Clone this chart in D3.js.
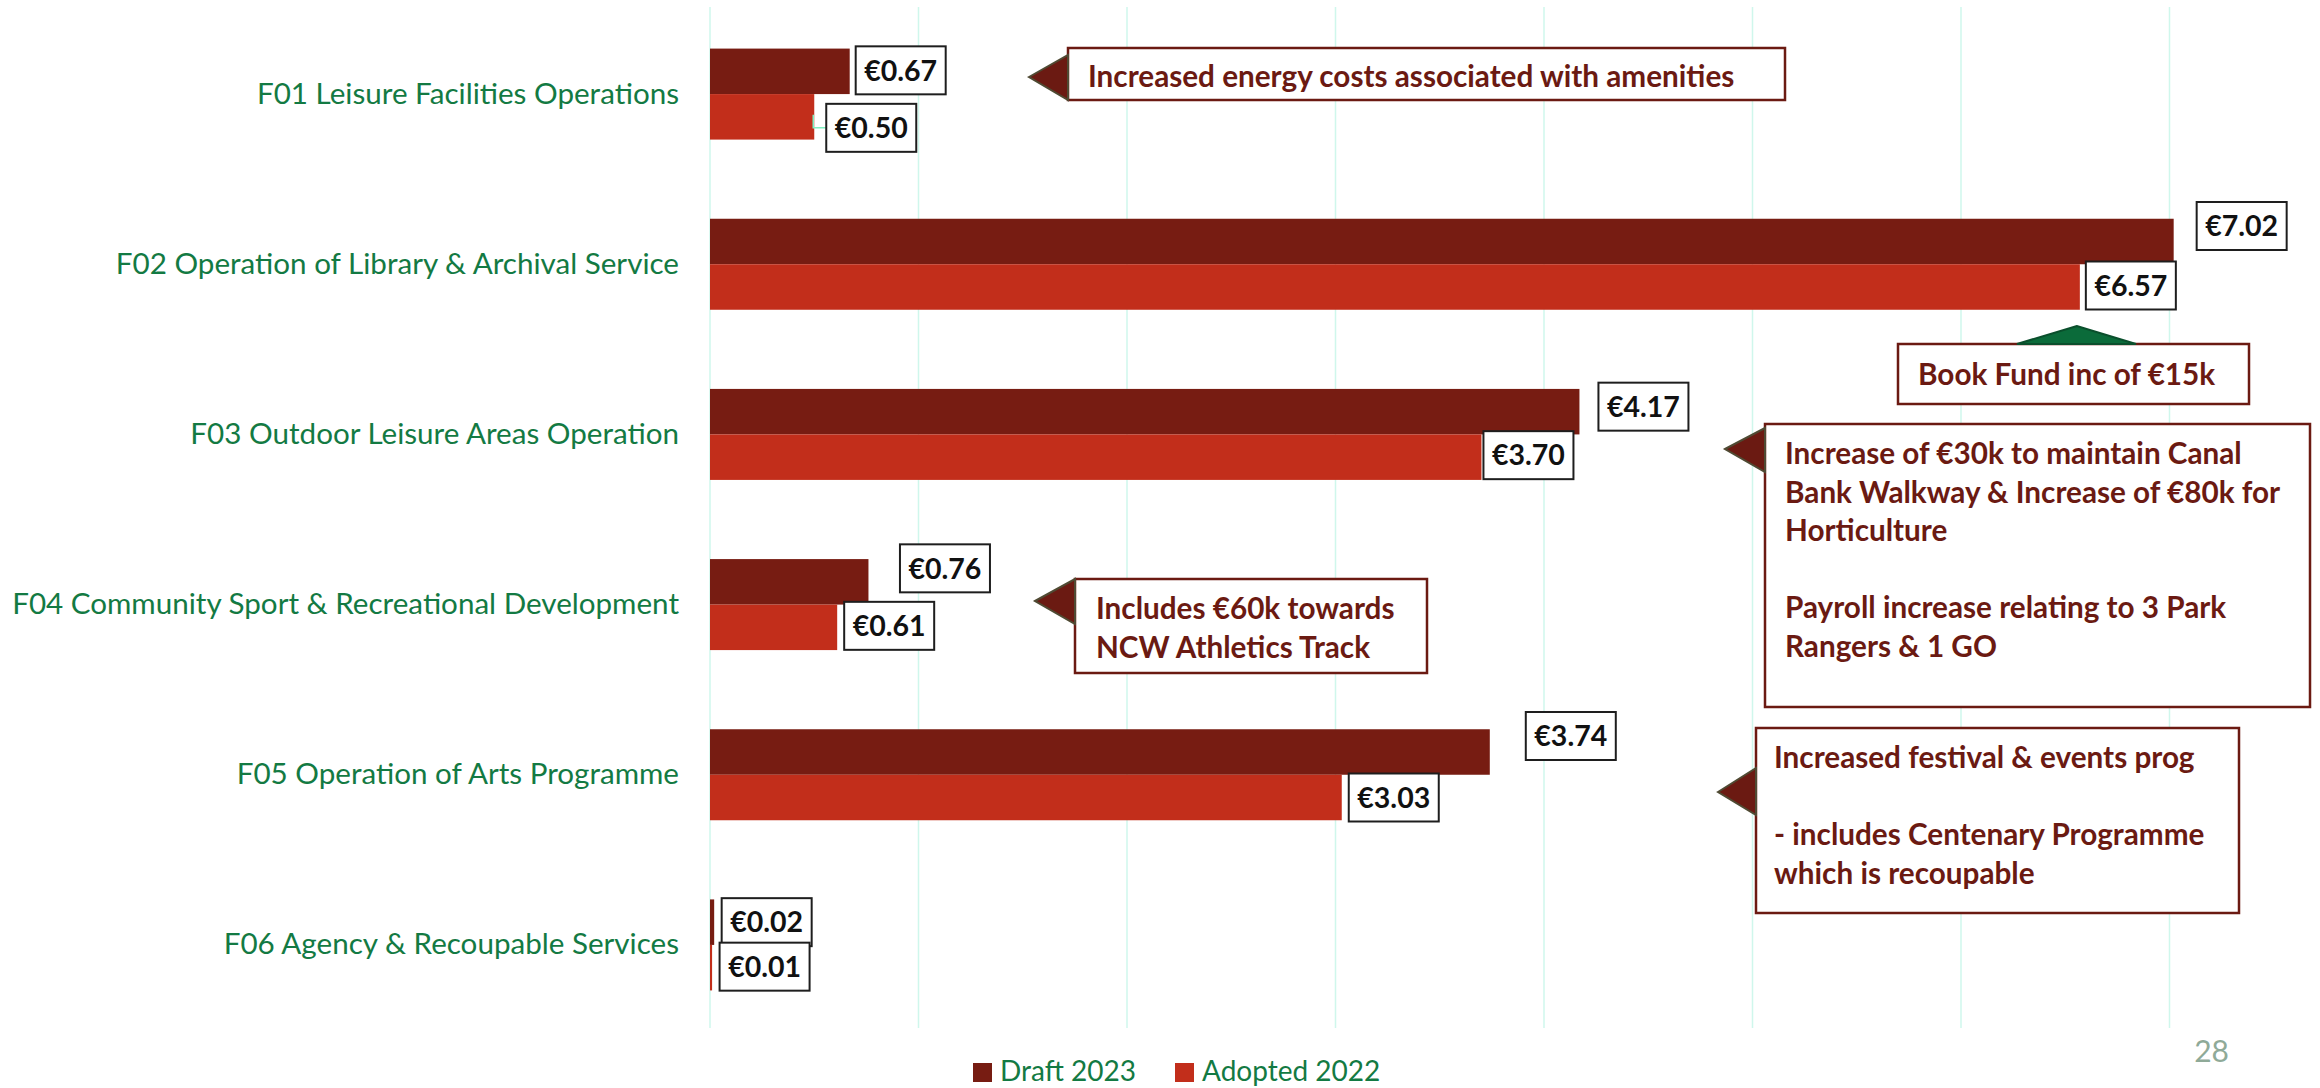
<!DOCTYPE html>
<html>
<head>
<meta charset="utf-8">
<script src="https://cdn.jsdelivr.net/npm/d3@7"></script>
<style>
  html, body { margin: 0; padding: 0; background: #ffffff; }
  svg { display: block; }
  text { font-family: Lato, "Open Sans", sans-serif; }
</style>
</head>
<body>
<svg id="chart" width="2320" height="1088"></svg>
<script>
// ---- data (€ millions) ----
const categories = [
  "F01 Leisure Facilities Operations",
  "F02 Operation of Library & Archival Service",
  "F03 Outdoor Leisure Areas Operation",
  "F04 Community Sport & Recreational Development",
  "F05 Operation of Arts Programme",
  "F06 Agency & Recoupable Services"
];
const seriesNames = ["Draft 2023", "Adopted 2022"];
const draft2023 = [0.67, 7.02, 4.17, 0.76, 3.74, 0.02];
const adopted2022 = [0.50, 6.57, 3.70, 0.61, 3.03, 0.01];
const xTicks = [0, 1, 2, 3, 4, 5, 6, 7];

// data-label nudges [dx from bar end, dy from bar centre]
const draftLabelShift = [[6, -1], [23, -15.5], [19, -5], [31.5, -13.5], [36, -16], [7.5, 0]];
const adoptedLabelShift = [[12, 11], [6, -1.5], [2, -2], [7, -1.5], [7, 0], [7.5, -1]];
const adoptedLeader = [true, false, false, false, false, false];

// commentary callouts
const noteLines = [
  ["Increased energy costs associated with amenities"],
  ["Book Fund inc of €15k"],
  ["Increase of €30k to maintain Canal", "Bank Walkway & Increase of €80k for", "Horticulture", "", "Payroll increase relating to 3 Park", "Rangers & 1 GO"],
  ["Includes €60k towards", "NCW Athletics Track"],
  ["Increased festival & events prog", "", "- includes Centenary Programme", "which is recoupable"]
];
// box [x0, y0, x1, y1], pointer triangle, first baseline, text x
const noteLayout = [
  { box: [1068, 48, 1785, 100], tri: [[1029, 77], [1068, 55], [1068, 100]], triFill: "#6b1a12", text: [1088, 87] },
  { box: [1898, 344, 2249, 404], tri: [[2077, 326], [2017, 344], [2136, 344]], triFill: "#0b6b3a", text: [1918, 385] },
  { box: [1765, 424, 2310, 707], tri: [[1725, 449], [1765, 428], [1765, 472]], triFill: "#6b1a12", text: [1785, 464] },
  { box: [1075, 579, 1427, 673], tri: [[1035, 601], [1075, 579], [1075, 624]], triFill: "#6b1a12", text: [1096, 619] },
  { box: [1756, 728, 2239, 913], tri: [[1718, 792], [1756, 768], [1756, 815]], triFill: "#6b1a12", text: [1774, 768] }
];

const colors = { "Draft 2023": "#771c12", "Adopted 2022": "#c22e1b" };
const labelGreen = "#137a43";
const noteRed = "#6b1a12";

const svg = d3.select("#chart");

// ---- scales ----
const x = d3.scaleLinear().domain([0, 7]).range([710, 2169.5]);
const y = d3.scaleBand().domain(categories).range([9, 1030]);
const ySub = d3.scaleBand().domain(seriesNames).range([0, y.bandwidth()]).paddingOuter(0.87);

// ---- gridlines ----
svg.append("g")
  .selectAll("line")
  .data(xTicks)
  .join("line")
  .attr("x1", d => x(d)).attr("x2", d => x(d))
  .attr("y1", 7).attr("y2", 1028)
  .attr("stroke", "#cff7ec")
  .attr("stroke-width", 1.5);

// ---- category axis ----
const yAxis = d3.axisLeft(y).tickSize(0).tickPadding(0);
const gy = svg.append("g").attr("transform", "translate(679,0)").call(yAxis);
gy.select(".domain").remove();
gy.selectAll("text")
  .attr("fill", labelGreen)
  .style("font-size", "29.6px")
  .style("font-family", "Lato, 'Open Sans', sans-serif");

// ---- bars ----
const rows = categories.map((c, i) => ({
  cat: c,
  values: [
    { series: "Draft 2023", value: draft2023[i], shift: draftLabelShift[i], leader: false },
    { series: "Adopted 2022", value: adopted2022[i], shift: adoptedLabelShift[i], leader: adoptedLeader[i] }
  ]
}));

const groups = svg.append("g")
  .selectAll("g")
  .data(rows)
  .join("g")
  .attr("transform", d => `translate(0,${y(d.cat)})`);

groups.selectAll("rect")
  .data(d => d.values)
  .join("rect")
  .attr("x", x(0))
  .attr("y", d => ySub(d.series))
  .attr("width", d => x(d.value) - x(0))
  .attr("height", ySub.bandwidth())
  .attr("fill", d => colors[d.series]);

// ---- data labels ----
const fmt = v => "€" + d3.format(".2f")(v);
const boxW = 90, boxH = 48;

const lab = groups.selectAll("g.lab")
  .data(d => d.values)
  .join("g")
  .attr("class", "lab");

lab.filter(d => d.leader)
  .append("path")
  .attr("d", d => {
    const cyBar = ySub(d.series) + ySub.bandwidth() / 2;
    const cyBox = cyBar + d.shift[1];
    return `M${x(d.value) - 1},${cyBar - 2}V${cyBox}H${x(d.value) + d.shift[0]}`;
  })
  .attr("fill", "none")
  .attr("stroke", "#7ff0c0")
  .attr("stroke-width", 1.5);

lab.append("rect")
  .attr("x", d => x(d.value) + d.shift[0])
  .attr("y", d => ySub(d.series) + ySub.bandwidth() / 2 + d.shift[1] - boxH / 2)
  .attr("width", boxW)
  .attr("height", boxH)
  .attr("fill", "#ffffff")
  .attr("stroke", "#1e1e1e")
  .attr("stroke-width", 2);

lab.append("text")
  .attr("x", d => x(d.value) + d.shift[0] + boxW / 2)
  .attr("y", d => ySub(d.series) + ySub.bandwidth() / 2 + d.shift[1])
  .attr("dy", "0.36em")
  .attr("text-anchor", "middle")
  .attr("fill", "#111111")
  .style("font-size", "28.5px")
  .style("font-weight", "700")
  .text(d => fmt(d.value));

// ---- callouts ----
const notes = svg.append("g")
  .selectAll("g")
  .data(noteLayout.map((l, i) => ({ ...l, lines: noteLines[i] })))
  .join("g");

notes.append("rect")
  .attr("x", d => d.box[0]).attr("y", d => d.box[1])
  .attr("width", d => d.box[2] - d.box[0])
  .attr("height", d => d.box[3] - d.box[1])
  .attr("fill", "#ffffff")
  .attr("stroke", noteRed)
  .attr("stroke-width", 2.5);

notes.append("path")
  .attr("d", d => d3.line()(d.tri) + "Z")
  .attr("fill", d => d.triFill)
  .attr("stroke", d => d.triFill === "#0b6b3a" ? "#0a4f2c" : "#4f4a33")
  .attr("stroke-width", 2)
  .attr("stroke-linejoin", "miter");

notes.append("text")
  .attr("fill", noteRed)
  .style("font-size", "29.7px")
  .style("font-weight", "700")
  .selectAll("tspan")
  .data(d => d.lines.map((t, k) => ({ t, k, x0: d.text[0], y0: d.text[1] })))
  .join("tspan")
  .attr("x", d => d.x0)
  .attr("y", d => d.y0 + d.k * 38.5)
  .text(d => d.t);

// ---- legend ----
const legend = svg.append("g")
  .selectAll("g")
  .data(seriesNames)
  .join("g")
  .attr("transform", (d, i) => `translate(${[973, 1175][i]},1063)`);

legend.append("rect")
  .attr("width", 19).attr("height", 19)
  .attr("fill", d => colors[d]);

legend.append("text")
  .attr("x", 27).attr("y", 18)
  .attr("fill", labelGreen)
  .style("font-size", "28px")
  .text(d => d);

// ---- slide number ----
svg.append("text")
  .attr("x", 2229).attr("y", 1062)
  .attr("text-anchor", "end")
  .attr("fill", "#8faa98")
  .style("font-size", "30px")
  .text("28");
</script>
</body>
</html>
